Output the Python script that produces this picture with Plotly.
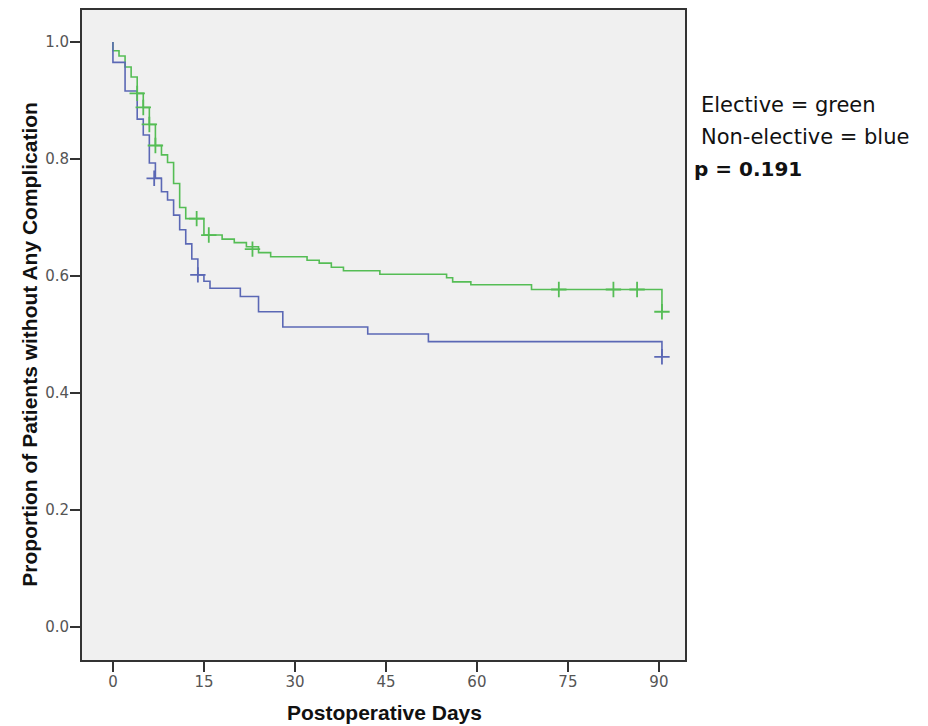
import plotly.graph_objects as go

# Elective (green) Kaplan-Meier steps
elective_days = [0, 0, 1, 2, 3, 4, 5, 6, 7, 8, 9, 10, 11, 12, 15, 18, 20, 22, 24, 26, 32, 34, 36, 38, 44, 55, 56, 59, 69, 90.5]
elective_surv = [1.0, 0.985, 0.976, 0.957, 0.940, 0.912, 0.888, 0.859, 0.823, 0.807, 0.794, 0.758, 0.717, 0.698, 0.670, 0.663, 0.657, 0.650, 0.640, 0.633, 0.627, 0.622, 0.615, 0.609, 0.603, 0.597, 0.590, 0.585, 0.577, 0.539]
elective_cens_days = [4, 5, 6, 7, 13.8, 15.8, 23, 73.5, 82.5, 86.4, 90.5]
elective_cens_surv = [0.912, 0.888, 0.859, 0.823, 0.698, 0.670, 0.646, 0.577, 0.577, 0.577, 0.539]

# Non-elective (blue) Kaplan-Meier steps
nonelective_days = [0, 0, 2, 4, 5, 6, 7, 8, 9, 10, 11, 12, 13, 14, 15, 16, 21, 24, 28, 42, 52, 90.5]
nonelective_surv = [1.0, 0.965, 0.916, 0.868, 0.841, 0.793, 0.767, 0.744, 0.730, 0.704, 0.679, 0.655, 0.629, 0.602, 0.591, 0.579, 0.565, 0.539, 0.513, 0.501, 0.488, 0.462]
nonelective_cens_days = [6.8, 14, 90.5]
nonelective_cens_surv = [0.767, 0.602, 0.462]

x_ticks = [0, 15, 30, 45, 60, 75, 90]
y_ticks = [0.0, 0.2, 0.4, 0.6, 0.8, 1.0]
y_tick_labels = ["0.0", "0.2", "0.4", "0.6", "0.8", "1.0"]

GREEN = "#55bd55"
BLUE = "#5b68b5"

fig = go.Figure()
fig.add_trace(go.Scatter(x=elective_days, y=elective_surv, mode="lines",
                         line=dict(color=GREEN, width=1.6, shape="hv"), showlegend=False))
fig.add_trace(go.Scatter(x=nonelective_days, y=nonelective_surv, mode="lines",
                         line=dict(color=BLUE, width=1.6, shape="hv"), showlegend=False))
fig.add_trace(go.Scatter(x=elective_cens_days, y=elective_cens_surv, mode="markers",
                         marker=dict(symbol="cross-thin", size=11, line=dict(color=GREEN, width=1.8)),
                         showlegend=False))
fig.add_trace(go.Scatter(x=nonelective_cens_days, y=nonelective_cens_surv, mode="markers",
                         marker=dict(symbol="cross-thin", size=11, line=dict(color=BLUE, width=1.8)),
                         showlegend=False))

fig.update_layout(
    width=920, height=718,
    margin=dict(l=74, r=243, t=0, b=66),
    paper_bgcolor="white",
    plot_bgcolor="#f0f0f0",
    xaxis=dict(range=[-5.1, 94.3], tickvals=x_ticks, showgrid=False, zeroline=False,
               ticks="outside", ticklen=10, tickwidth=2, tickcolor="#333", ticklabelstandoff=-3,
               showline=True, linecolor="#333", linewidth=2, mirror=True,
               tickfont=dict(family="DejaVu Sans", size=15, color="#555")),
    yaxis=dict(range=[-0.056, 1.0545], tickvals=y_ticks, ticktext=y_tick_labels,
               showgrid=False, zeroline=False,
               ticks="outside", ticklen=10, tickwidth=2, tickcolor="#333", ticklabelstandoff=-2,
               showline=True, linecolor="#333", linewidth=2, mirror=True,
               tickfont=dict(family="DejaVu Sans", size=15, color="#555")),
    annotations=[
        dict(text="<b>Proportion of Patients without Any Complication</b>", xref="paper", yref="paper",
             x=-0.087, y=0.486, xanchor="center", yanchor="middle", textangle=-90, showarrow=False,
             font=dict(family="Liberation Sans", size=21, color="#111")),
        dict(text="<b>Postoperative Days</b>", xref="paper", yref="paper",
             x=0.502, y=-0.081, xanchor="center", yanchor="middle", showarrow=False,
             font=dict(family="Liberation Sans", size=21, color="#111")),
        dict(text="Elective = green", xref="paper", yref="paper", x=1.023, y=0.854,
             xanchor="left", yanchor="middle", showarrow=False,
             font=dict(family="DejaVu Sans", size=21, color="#111")),
        dict(text="Non-elective = blue", xref="paper", yref="paper", x=1.023, y=0.805,
             xanchor="left", yanchor="middle", showarrow=False,
             font=dict(family="DejaVu Sans", size=21, color="#111")),
        dict(text="<b>p = 0.191</b>", xref="paper", yref="paper", x=1.012, y=0.755,
             xanchor="left", yanchor="middle", showarrow=False,
             font=dict(family="DejaVu Sans", size=20, color="#111")),
    ],
)

fig.write_html("out.html")
